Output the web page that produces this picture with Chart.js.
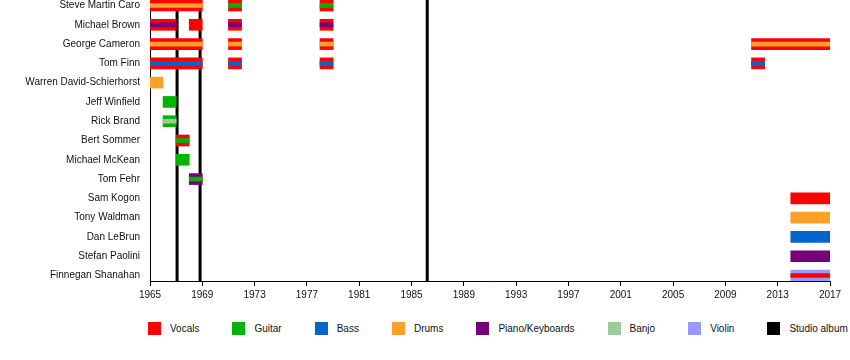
<!DOCTYPE html>
<html>
<head>
<meta charset="utf-8">
<script src="https://cdn.jsdelivr.net/npm/chart.js@4.4.1/dist/chart.umd.min.js"></script>
<style>
  body { margin: 0; background: #fff; font-family: "Liberation Sans", Arial, sans-serif; }
  #wrap { position: relative; width: 850px; height: 360px; overflow: hidden; }
  #box { position: absolute; left: 0; top: 0; width: 850px; height: 312px; }
  #legend { position: absolute; left: 148px; top: 322px; display: flex; white-space: nowrap; font-size: 10px; color: #111; }
  .item { display: flex; align-items: center; margin-right: 33px; line-height: 13px; }
  .swatch { width: 13px; height: 13px; margin-right: 9px; }
</style>
</head>
<body>
<div id="wrap">
  <div id="box"><canvas id="timeline"></canvas></div>
  <div id="legend"></div>
</div>
<script>
const members = [
  'Steve Martin Caro', 'Michael Brown', 'George Cameron', 'Tom Finn',
  'Warren David-Schierhorst', 'Jeff Winfield', 'Rick Brand', 'Bert Sommer',
  'Michael McKean', 'Tom Fehr', 'Sam Kogon', 'Tony Waldman', 'Dan LeBrun',
  'Stefan Paolini', 'Finnegan Shanahan'
];
const roles = ['Vocals', 'Guitar', 'Bass', 'Drums', 'Piano/Keyboards', 'Banjo', 'Violin'];
const roleColors = ['#ff0000', '#00b300', '#0066cc', '#ffa126', '#770077', '#99cc99', '#9999ff'];
const albumLabel = 'Studio album';
const albumYears = [1967.07, 1968.83, 1986.2];
const yearTicks = [1965, 1969, 1973, 1977, 1981, 1985, 1989, 1993, 1997, 2001, 2005, 2009, 2013, 2017];

// member, from, to, main role, second role
const spans = [
  ['Steve Martin Caro', 1965, 1969, 'Vocals', 'Drums'],
  ['Steve Martin Caro', 1971, 1972, 'Vocals', 'Guitar'],
  ['Steve Martin Caro', 1978, 1979, 'Vocals', 'Guitar'],
  ['Michael Brown', 1965, 1967, 'Vocals', 'Piano/Keyboards'],
  ['Michael Brown', 1968, 1969, 'Vocals', null],
  ['Michael Brown', 1971, 1972, 'Vocals', 'Piano/Keyboards'],
  ['Michael Brown', 1978, 1979, 'Vocals', 'Piano/Keyboards'],
  ['George Cameron', 1965, 1969, 'Vocals', 'Drums'],
  ['George Cameron', 1971, 1972, 'Vocals', 'Drums'],
  ['George Cameron', 1978, 1979, 'Vocals', 'Drums'],
  ['George Cameron', 2011, 2017, 'Vocals', 'Drums'],
  ['Tom Finn', 1965, 1969, 'Vocals', 'Bass'],
  ['Tom Finn', 1971, 1972, 'Vocals', 'Bass'],
  ['Tom Finn', 1978, 1979, 'Vocals', 'Bass'],
  ['Tom Finn', 2011, 2012, 'Vocals', 'Bass'],
  ['Warren David-Schierhorst', 1965, 1966, 'Drums', null],
  ['Jeff Winfield', 1966, 1967, 'Guitar', null],
  ['Rick Brand', 1966, 1967, 'Guitar', 'Banjo'],
  ['Bert Sommer', 1967, 1968, 'Vocals', 'Guitar'],
  ['Michael McKean', 1967, 1968, 'Guitar', null],
  ['Tom Fehr', 1968, 1969, 'Piano/Keyboards', 'Guitar'],
  ['Sam Kogon', 2014, 2017, 'Vocals', null],
  ['Tony Waldman', 2014, 2017, 'Drums', null],
  ['Dan LeBrun', 2014, 2017, 'Bass', null],
  ['Stefan Paolini', 2014, 2017, 'Piano/Keyboards', null],
  ['Finnegan Shanahan', 2014, 2017, 'Violin', 'Vocals']
];

const rowPad = 0.2857;
const font = { family: '"Liberation Sans", Arial, sans-serif', size: 10 };
const colorOf = role => roleColors[roles.indexOf(role)];

function toBar(s) {
  return { x: [s[1], s[2]], y: members.indexOf(s[0]) };
}

const inner = spans.filter(s => s[4]);

const datasets = [
  {
    label: 'main',
    data: spans.map(toBar),
    backgroundColor: spans.map(s => colorOf(s[3])),
    barThickness: 11,
    grouped: false,
    order: 1
  },
  {
    label: 'second',
    data: inner.map(toBar),
    backgroundColor: inner.map(s => colorOf(s[4])),
    barThickness: 4,
    grouped: false,
    order: 0
  }
];

// studio albums as vertical lines behind the bars
albumYears.forEach(yr => {
  datasets.push({
    type: 'line',
    label: albumLabel,
    data: [{ x: yr, y: -rowPad }, { x: yr, y: members.length - 1 + rowPad }],
    borderColor: '#000',
    borderWidth: 3,
    pointRadius: 0,
    order: 2
  });
});

new Chart(document.getElementById('timeline'), {
  type: 'bar',
  data: { datasets: datasets },
  options: {
    indexAxis: 'y',
    responsive: true,
    maintainAspectRatio: false,
    animation: false,
    layout: { padding: { top: 0, right: 20, bottom: 0, left: 0 }, autoPadding: false },
    plugins: { legend: { display: false }, tooltip: { enabled: false } },
    scales: {
      x: {
        type: 'linear',
        min: 1965,
        max: 2017,
        afterBuildTicks: s => { s.ticks = yearTicks.map(v => ({ value: v })); },
        afterFit: s => { s.height = 31; s.paddingLeft = 0; s.paddingRight = 0; },
        ticks: { font: font, color: '#111', padding: 3, maxRotation: 0, autoSkip: false, callback: v => String(v) },
        grid: { drawOnChartArea: false, tickLength: 5, color: '#000' },
        border: { color: '#000', width: 1 }
      },
      y: {
        type: 'linear',
        reverse: true,
        offset: false,
        min: -rowPad,
        max: members.length - 1 + rowPad,
        afterBuildTicks: s => { s.ticks = members.map((m, i) => ({ value: i })); },
        afterFit: s => { s.width = 150; s.paddingTop = 0; s.paddingBottom = 0; },
        ticks: { font: font, color: '#111', padding: 10, autoSkip: false, callback: v => members[v] },
        grid: { offset: false, drawOnChartArea: false, drawTicks: false, color: '#000' },
        border: { color: '#000', width: 1 }
      }
    }
  }
});

// legend
const legend = document.getElementById('legend');
roles.concat([albumLabel]).forEach((name, i) => {
  const item = document.createElement('div');
  item.className = 'item';
  const sw = document.createElement('span');
  sw.className = 'swatch';
  sw.style.background = i < roles.length ? roleColors[i] : '#000';
  const txt = document.createElement('span');
  txt.textContent = name;
  item.appendChild(sw);
  item.appendChild(txt);
  legend.appendChild(item);
});
</script>
</body>
</html>
